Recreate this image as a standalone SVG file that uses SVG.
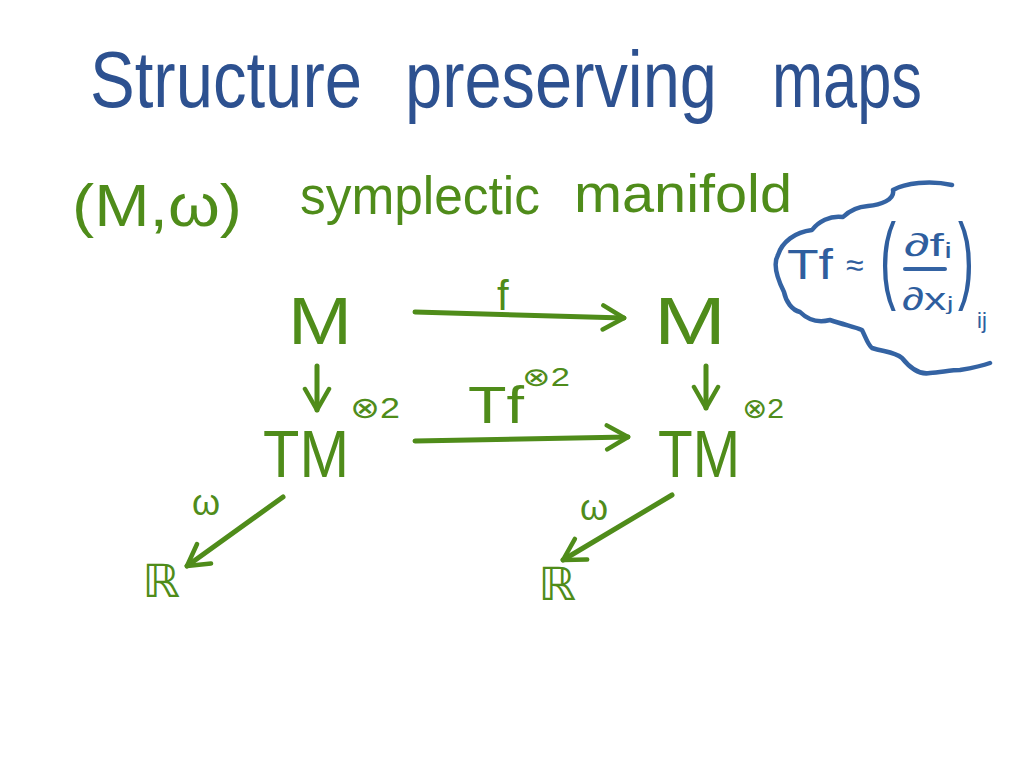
<svg xmlns="http://www.w3.org/2000/svg" width="1024" height="768" viewBox="0 0 1024 768">
<style>
.t{font-family:"Liberation Sans","DejaVu Sans",sans-serif;}
.title{fill:#2d5190;font-size:80px;}
.g{fill:#4f8c1a;}
.b{fill:#2f5e9e;}
.ln{stroke:#4f8c1a;stroke-width:5;fill:none;stroke-linecap:round;stroke-linejoin:round;}
.cl{stroke:#3463a3;stroke-width:4.5;fill:none;stroke-linecap:round;stroke-linejoin:round;}
</style>
<defs>
<marker id="ah" viewBox="0 0 20 20" refX="16" refY="10" markerWidth="6" markerHeight="6" markerUnits="strokeWidth" orient="auto">
<path d="M2,2 L16,10 L2,18" fill="none" stroke="#4f8c1a" stroke-width="3" stroke-linecap="round" stroke-linejoin="round"/>
</marker>
</defs>
<rect width="1024" height="768" fill="#ffffff"/>
<g id="title" class="t title">
<text x="90" y="107" textLength="272" lengthAdjust="spacingAndGlyphs">Structure</text>
<text x="405" y="107" textLength="312" lengthAdjust="spacingAndGlyphs">preserving</text>
<text x="772" y="107" textLength="150" lengthAdjust="spacingAndGlyphs">maps</text>
</g>
<g id="subtitle" class="t g" font-size="60">
<text x="72" y="226" textLength="170" lengthAdjust="spacingAndGlyphs">(M,ω)</text>
<text x="300" y="214" textLength="240" lengthAdjust="spacingAndGlyphs" font-size="54">symplectic</text>
<text x="574" y="212" textLength="218" lengthAdjust="spacingAndGlyphs" font-size="54">manifold</text>
</g>
<g id="M1" class="t g"><text x="288" y="344" font-size="66" textLength="64" lengthAdjust="spacingAndGlyphs">M</text></g>
<g id="M2" class="t g"><text x="654" y="344" font-size="66" textLength="72" lengthAdjust="spacingAndGlyphs">M</text></g>
<g id="TM1" class="t g"><text x="263" y="477" font-size="66" textLength="86" lengthAdjust="spacingAndGlyphs">TM</text><text x="350" y="418" font-size="30" textLength="50" lengthAdjust="spacingAndGlyphs">⊗2</text></g>
<g id="TM2" class="t g"><text x="658" y="477" font-size="66" textLength="82" lengthAdjust="spacingAndGlyphs">TM</text><text x="742" y="418" font-size="28" textLength="42" lengthAdjust="spacingAndGlyphs">⊗2</text></g>
<g id="R1" class="t g"><text x="142" y="597" font-size="46" textLength="38" lengthAdjust="spacingAndGlyphs">ℝ</text></g>
<g id="R2" class="t g"><text x="538" y="600" font-size="46" textLength="38" lengthAdjust="spacingAndGlyphs">ℝ</text></g>
<g id="connectors">
<line class="ln" x1="415" y1="312" x2="624" y2="318" marker-end="url(#ah)"/>
<line class="ln" x1="415" y1="441" x2="628" y2="437" marker-end="url(#ah)"/>
<line class="ln" x1="317" y1="366" x2="317" y2="410" marker-end="url(#ah)"/>
<line class="ln" x1="706" y1="366" x2="706" y2="408" marker-end="url(#ah)"/>
<line class="ln" x1="283" y1="497" x2="187" y2="566" marker-end="url(#ah)"/>
<line class="ln" x1="672" y1="495" x2="563" y2="560" marker-end="url(#ah)"/>
</g>
<g id="labels" class="t g">
<text x="497" y="310" font-size="42">f</text>
<text x="468" y="423" font-size="52" textLength="56" lengthAdjust="spacingAndGlyphs">Tf</text>
<text x="522" y="386" font-size="26" textLength="48" lengthAdjust="spacingAndGlyphs">⊗2</text>
<text x="192" y="515" font-size="36">ω</text>
<text x="580" y="520" font-size="36">ω</text>
</g>
<g id="cloud">
<path class="cl" d="M952,185 C930,180 905,183 893,190 C895,200 880,205 868,206 C855,207 848,212 843,217 C830,215 818,222 812,230 C795,232 782,242 778,255 C772,265 778,280 784,292 C786,302 792,310 800,312 C810,322 822,322 830,320 C845,325 855,327 862,330 C866,338 868,345 872,348 C885,352 895,352 902,358 C910,368 920,375 930,373 C942,372 952,370 960,370 C972,368 982,366 990,363"/>
<g class="t b">
<text x="787" y="279" font-size="42" textLength="46" lengthAdjust="spacingAndGlyphs">Tf</text>
<text x="846" y="276" font-size="32">≈</text>
<text transform="translate(880,291) scale(1,2.2)" font-size="44" textLength="16" lengthAdjust="spacingAndGlyphs">(</text>
<text x="904" y="256" font-size="32" textLength="48" lengthAdjust="spacingAndGlyphs">∂fᵢ</text>
<line x1="905" y1="269" x2="945" y2="269" stroke="#3463a3" stroke-width="4" stroke-linecap="round"/>
<text x="902" y="310" font-size="32" textLength="52" lengthAdjust="spacingAndGlyphs">∂xⱼ</text>
<text transform="translate(958,291) scale(1,2.2)" font-size="44" textLength="16" lengthAdjust="spacingAndGlyphs">)</text>
<text x="977" y="328" font-size="22">ij</text>
</g>
</g>
</svg>
